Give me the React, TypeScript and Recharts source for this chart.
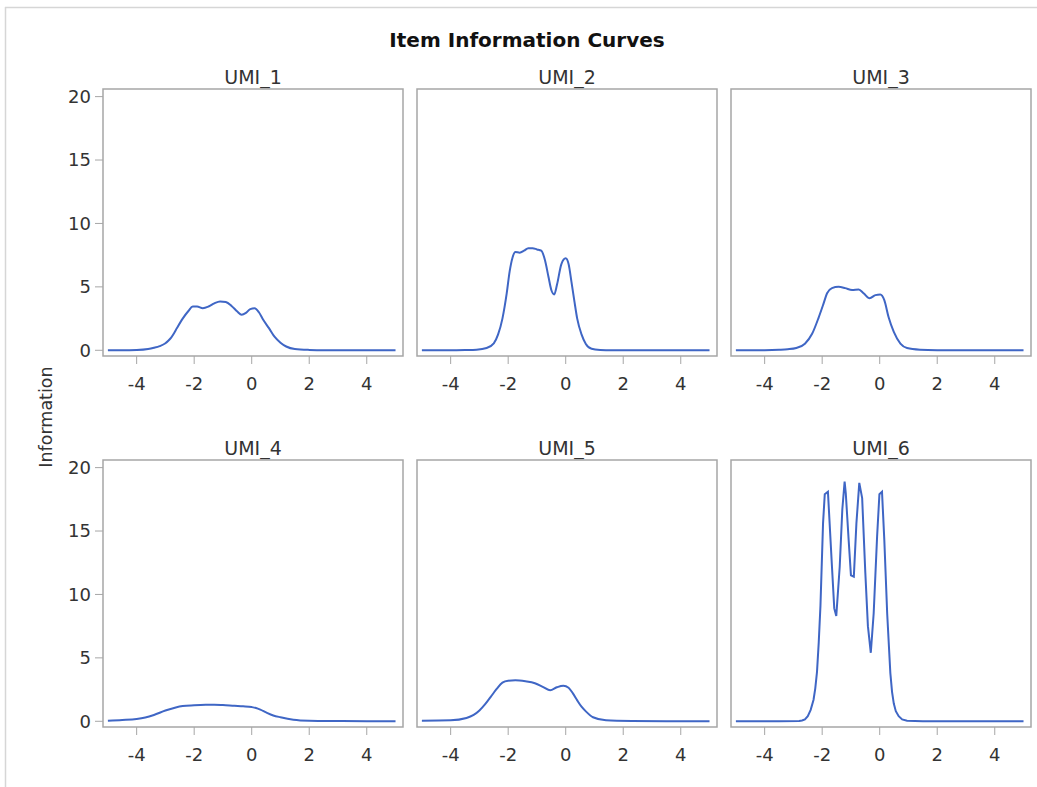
import { LineChart, Line, XAxis, YAxis, ReferenceArea } from 'recharts'

// theta grid + information values
const umi1Theta = [-5, -4.5, -4, -3.6, -3.4, -3.2, -3.0, -2.9, -2.8, -2.7, -2.6, -2.4, -2.2, -2.05, -1.9, -1.7, -1.5, -1.3, -1.1, -0.9, -0.7, -0.5, -0.35, -0.2, -0.05, 0.1, 0.25, 0.4, 0.6, 0.8, 1.0, 1.2, 1.5, 2.0, 2.5, 3, 4, 5]
const umi1Info = [0, 0, 0.02, 0.1, 0.2, 0.33, 0.55, 0.75, 1.0, 1.35, 1.75, 2.5, 3.1, 3.45, 3.45, 3.32, 3.45, 3.7, 3.85, 3.8, 3.5, 3.05, 2.8, 2.95, 3.25, 3.32, 3.0, 2.4, 1.75, 1.05, 0.6, 0.3, 0.1, 0.03, 0.01, 0, 0, 0]

const umi2Theta = [-5, -4, -3.5, -3.1, -2.75, -2.5, -2.35, -2.2, -2.05, -1.95, -1.85, -1.75, -1.6, -1.45, -1.3, -1.15, -1.0, -0.85, -0.72, -0.6, -0.5, -0.4, -0.3, -0.15, 0.0, 0.1, 0.2, 0.3, 0.4, 0.55, 0.7, 0.9, 1.2, 1.6, 3, 5]
const umi2Info = [0, 0, 0.02, 0.05, 0.18, 0.55, 1.25, 2.5, 4.5, 6.2, 7.3, 7.75, 7.7, 7.85, 8.05, 8.05, 7.95, 7.85, 7.1, 5.8, 4.75, 4.4, 5.2, 6.8, 7.25, 6.8, 5.4, 3.9, 2.5, 1.25, 0.5, 0.12, 0.03, 0, 0, 0]

const umi3Theta = [-5, -4, -3.5, -3.2, -2.9, -2.6, -2.35, -2.12, -1.95, -1.83, -1.66, -1.43, -1.2, -0.96, -0.73, -0.56, -0.35, -0.15, 0.02, 0.16, 0.31, 0.49, 0.72, 0.95, 1.4, 2, 3, 5]
const umi3Info = [0, 0.01, 0.04, 0.08, 0.18, 0.52, 1.3, 2.6, 3.7, 4.5, 4.9, 5.0, 4.9, 4.75, 4.8, 4.5, 4.1, 4.35, 4.4, 3.95, 2.6, 1.45, 0.53, 0.18, 0.05, 0.01, 0, 0]

const umi4Theta = [-5, -4.5, -4, -3.7, -3.4, -3.0, -2.7, -2.4, -2.0, -1.6, -1.3, -1.0, -0.6, -0.3, 0, 0.15, 0.3, 0.5, 0.75, 1.0, 1.45, 2.0, 3.0, 4, 5]
const umi4Info = [0.05, 0.1, 0.18, 0.3, 0.5, 0.85, 1.05, 1.2, 1.26, 1.3, 1.31, 1.28, 1.22, 1.18, 1.12, 1.05, 0.92, 0.7, 0.46, 0.32, 0.13, 0.05, 0.02, 0, 0]

const umi5Theta = [-5, -4, -3.45, -3.2, -3.0, -2.8, -2.6, -2.4, -2.2, -2.0, -1.75, -1.4, -1.07, -0.78, -0.54, -0.31, -0.08, 0.1, 0.25, 0.4, 0.55, 0.7, 0.95, 1.4, 2.3, 3.5, 5]
const umi5Info = [0.05, 0.08, 0.26, 0.5, 0.85, 1.35, 1.95, 2.55, 3.05, 3.2, 3.23, 3.15, 3.0, 2.7, 2.44, 2.68, 2.81, 2.65, 2.2, 1.65, 1.15, 0.78, 0.32, 0.08, 0.02, 0, 0]

const umi6Theta = [-5, -3.5, -2.8, -2.7, -2.6, -2.5, -2.4, -2.3, -2.24, -2.18, -2.12, -2.06, -1.97, -1.91, -1.8, -1.66, -1.58, -1.51, -1.39, -1.3, -1.22, -1.18, -1.08, -1.0, -0.9, -0.81, -0.71, -0.61, -0.5, -0.41, -0.31, -0.21, -0.09, -0.01, 0.08, 0.16, 0.26, 0.37, 0.43, 0.49, 0.56, 0.66, 0.78, 0.95, 1.5, 5]
const umi6Info = [0, 0, 0.02, 0.06, 0.15, 0.4, 0.9, 1.7, 2.6, 3.9, 6.2, 9.1, 15.6, 17.9, 18.1, 12.2, 8.9, 8.3, 12.2, 16.7, 18.9, 18.0, 14.3, 11.5, 11.4, 15.6, 18.8, 17.6, 11.7, 7.5, 5.4, 8.5, 14.6, 17.9, 18.1, 14.3, 8.5, 3.8, 2.3, 1.4, 0.8, 0.4, 0.15, 0.05, 0, 0]

const xTicks = [-4, -2, 0, 2, 4]
const yTicks = [0, 5, 10, 15, 20]

const X_DOMAIN: [number, number] = [-5.17, 5.26]
const Y_DOMAIN: [number, number] = [-0.45, 20.6]

const FONT = '"DejaVu Sans", Verdana, sans-serif'
const LINE = '#3f66c5'
const FRAME = '#a6a6a6'
const TEXT = '#333333'

const PLOT_W = 300
const PLOT_H = 267
const Y_AXIS_W = 60
const X_AXIS_H = 40
const colLeft = [103, 417, 731]
const rowTop = [89, 460]
const titleBase = [83.5, 454.5]

const zip = (t: number[], v: number[]) => t.map((theta, i) => ({ theta, info: v[i] }))

const panels = [
  { name: 'UMI_1', data: zip(umi1Theta, umi1Info), col: 0, row: 0, curve: 'monotone' },
  { name: 'UMI_2', data: zip(umi2Theta, umi2Info), col: 1, row: 0, curve: 'monotone' },
  { name: 'UMI_3', data: zip(umi3Theta, umi3Info), col: 2, row: 0, curve: 'monotone' },
  { name: 'UMI_4', data: zip(umi4Theta, umi4Info), col: 0, row: 1, curve: 'monotone' },
  { name: 'UMI_5', data: zip(umi5Theta, umi5Info), col: 1, row: 1, curve: 'monotone' },
  { name: 'UMI_6', data: zip(umi6Theta, umi6Info), col: 2, row: 1, curve: 'linear' },
]

const tickStyle = { fontSize: 18, fill: TEXT, fontFamily: FONT }

function Panel({ data, col, row, curve }: { data: { theta: number; info: number }[]; col: number; row: number; curve: any }) {
  const showY = col === 0
  const leftPad = showY ? Y_AXIS_W : 2
  return (
    <div style={{ position: 'absolute', left: colLeft[col] - leftPad, top: rowTop[row] - 2 }}>
      <LineChart
        width={leftPad + PLOT_W + 2}
        height={2 + PLOT_H + X_AXIS_H}
        data={data}
        margin={{ top: 2, right: 2, bottom: 0, left: showY ? 0 : 2 }}
      >
        <XAxis
          type="number"
          dataKey="theta"
          domain={X_DOMAIN}
          ticks={xTicks}
          interval={0}
          allowDataOverflow
          axisLine={false}
          tickLine={{ stroke: FRAME }}
          tickSize={8}
          tickMargin={13}
          height={X_AXIS_H}
          tick={tickStyle}
        />
        <YAxis
          type="number"
          domain={Y_DOMAIN}
          ticks={yTicks}
          interval={0}
          allowDataOverflow
          hide={!showY}
          width={Y_AXIS_W}
          axisLine={false}
          tickLine={{ stroke: FRAME }}
          tickSize={8}
          tickMargin={4}
          tick={tickStyle}
        />
        <ReferenceArea
          x1={X_DOMAIN[0]}
          x2={X_DOMAIN[1]}
          y1={Y_DOMAIN[0]}
          y2={Y_DOMAIN[1]}
          fill="none"
          stroke={FRAME}
          strokeWidth={1.5}
          ifOverflow="visible"
        />
        <Line type={curve} dataKey="info" stroke={LINE} strokeWidth={2} dot={false} isAnimationActive={false} />
      </LineChart>
    </div>
  )
}

export default function App() {
  return (
    <div style={{ position: 'absolute', left: 0, top: 0, width: 1037, height: 787, background: '#fff', overflow: 'hidden' }}>
      <svg width={1037} height={787} style={{ position: 'absolute', left: 0, top: 0 }}>
        <line x1={5} y1={7.5} x2={1037} y2={7.5} stroke="#d6d6d6" strokeWidth={1.5} />
        <line x1={5.5} y1={7} x2={5.5} y2={787} stroke="#d6d6d6" strokeWidth={1.5} />
        <text x={527} y={47.3} textAnchor="middle" fontFamily={FONT} fontSize={20} fontWeight="bold" fill="#111">
          Item Information Curves
        </text>
        {panels.map((p) => (
          <text key={p.name} x={colLeft[p.col] + PLOT_W / 2} y={titleBase[p.row]} textAnchor="middle" fontFamily={FONT} fontSize={19} fill={TEXT}>
            {p.name}
          </text>
        ))}
        <text transform="translate(51.5,417) rotate(-90)" textAnchor="middle" fontFamily={FONT} fontSize={17.5} fill={TEXT}>
          Information
        </text>
      </svg>
      {panels.map((p) => (
        <Panel key={p.name} data={p.data} col={p.col} row={p.row} curve={p.curve} />
      ))}
    </div>
  )
}
